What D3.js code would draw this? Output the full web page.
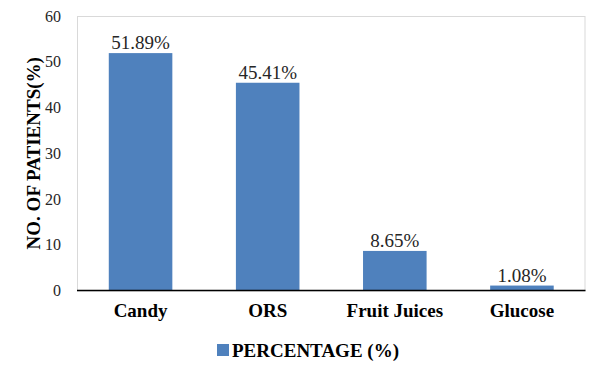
<!DOCTYPE html>
<html><head><meta charset="utf-8">
<script src="https://cdn.jsdelivr.net/npm/d3@7"></script>
</head><body style="margin:0">
<svg id="c" width="600" height="376"></svg>
<script>
const categories = ["Candy", "ORS", "Fruit Juices", "Glucose"];
const percentages = [51.89, 45.41, 8.65, 1.08];
const valueLabels = ["51.89%", "45.41%", "8.65%", "1.08%"];
const yTicks = [0, 10, 20, 30, 40, 50, 60];
const seriesName = "PERCENTAGE (%)";
const yTitle = "NO. OF PATIENTS(%)";

const W = 600, H = 376;
const m = {left: 77, right: 14.5, top: 16, bottom: 85.5};
const svg = d3.select("#c");
const font = "Liberation Serif";
const color = "#4F81BD";

const x = d3.scaleBand().domain(categories).range([m.left, W - m.right]).paddingInner(0.5).paddingOuter(0.25);
const y = d3.scaleLinear().domain([0, 60]).range([H - m.bottom, m.top]);

svg.append("rect").attr("x", 0).attr("y", 0).attr("width", W).attr("height", H).attr("fill", "#fff");

// plot area frame
svg.append("rect").attr("x", m.left + 0.5).attr("y", m.top + 0.5)
  .attr("width", W - m.right - m.left - 1).attr("height", H - m.bottom - m.top)
  .attr("fill", "none").attr("stroke", "#d9d9d9").attr("stroke-width", 1);

// bars
svg.append("g").selectAll("rect").data(percentages).join("rect")
  .attr("x", (d, i) => x(categories[i]))
  .attr("y", d => y(d))
  .attr("width", x.bandwidth())
  .attr("height", d => y(0) - y(d))
  .attr("fill", color);

// value labels
svg.append("g").selectAll("text").data(percentages).join("text")
  .attr("x", (d, i) => x(categories[i]) + x.bandwidth() / 2)
  .attr("y", d => y(d) - 4)
  .attr("text-anchor", "middle")
  .attr("font-family", font).attr("font-size", 19)
  .attr("fill", "#262626")
  .text((d, i) => valueLabels[i]);

// y axis
const yAxis = d3.axisLeft(y).tickValues(yTicks).tickSize(0).tickPadding(16);
const gy = svg.append("g").attr("transform", `translate(${m.left},0)`).call(yAxis);
gy.attr("font-family", font);
gy.select(".domain").remove();
gy.selectAll("text").attr("font-family", font).attr("font-size", 16).attr("fill", "#262626");

// x axis
const xAxis = d3.axisBottom(x).tickSize(0).tickPadding(13);
const gx = svg.append("g").attr("transform", `translate(0,${y(0)})`).call(xAxis);
gx.attr("font-family", font);
gx.select(".domain").attr("stroke", "#000").attr("stroke-width", 1.5).attr("d", `M${m.left},0H${W - m.right}`);
gx.selectAll("text").attr("font-family", font).attr("font-size", 19).attr("font-weight", "bold").attr("fill", "#000");

// y title
svg.append("text")
  .attr("transform", `translate(40,${(m.top + H - m.bottom) / 2}) rotate(-90)`)
  .attr("text-anchor", "middle")
  .attr("font-family", font).attr("font-size", 19).attr("font-weight", "bold")
  .attr("fill", "#000")
  .text(yTitle);

// legend
const lg = svg.append("g").attr("transform", "translate(217,344)");
lg.append("rect").attr("width", 12).attr("height", 12).attr("fill", color);
lg.append("text").attr("x", 15).attr("y", 12.7)
  .attr("font-family", font).attr("font-size", 19).attr("font-weight", "bold")
  .attr("fill", "#000")
  .text(seriesName);
</script>
</body></html>
